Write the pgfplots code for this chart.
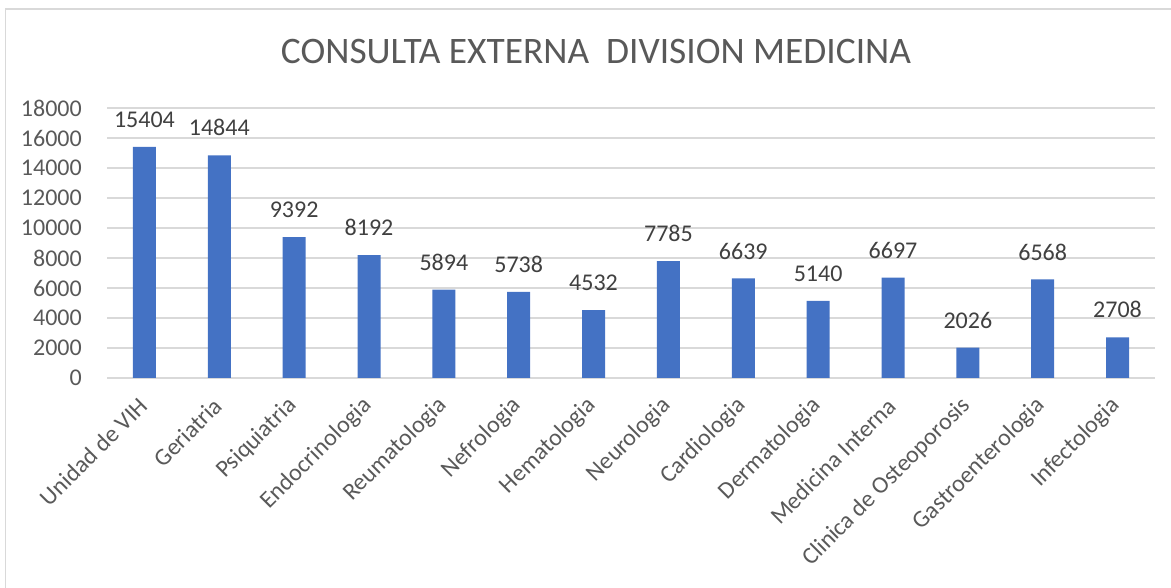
\documentclass[border=0pt]{standalone}
\usepackage{fontspec}
\setmainfont{Carlito}
\usepackage{pgfplots}
\pgfplotsset{compat=1.18}
\definecolor{barblue}{HTML}{4472C4}
\definecolor{gridgray}{HTML}{D9D9D9}
\definecolor{txtgray}{HTML}{595959}
\definecolor{lblgray}{HTML}{404040}
\begin{document}
\begin{tikzpicture}[x=1pt,y=1pt]
\path[use as bounding box] (0,0) rectangle (1171,588);
\draw[gridgray, line width=1.5pt] (5.5,0) -- (5.5,579) -- (1171,579);
\node[anchor=base, text=txtgray, inner sep=0pt, font=\fontsize{37.4}{42}\selectfont] at (596,524) {CONSULTA EXTERNA\ \ DIVISION MEDICINA};
\begin{axis}[
  at={(107pt,210pt)}, anchor=south west,
  width=1048pt, height=270pt, scale only axis,
  xmin=-0.5, xmax=13.5, ymin=0, ymax=18000,
  ytick={0,2000,...,18000},
  scaled y ticks=false,
  xtick={0,...,13},
  xticklabels={Unidad de VIH,Geriatria,Psiquiatria,Endocrinologia,Reumatologia,Nefrologia,Hematologia,Neurologia,Cardiologia,Dermatologia,Medicina Interna,Clinica de Osteoporosis,Gastroenterologia,Infectologia},
  /pgf/number format/assume math mode=true,
  /pgf/number format/1000 sep={},
  axis line style={draw=none},
  tick style={draw=none},
  ymajorgrids, major grid style={gridgray, line width=1.3pt},
  yticklabel style={font=\fontsize{24}{28}\selectfont, text=txtgray, anchor=east, inner sep=0pt, xshift=-25pt},
  xticklabel style={font=\fontsize{24}{28}\selectfont, text=txtgray, xshift=-1pt, yshift=-24pt, rotate=45, anchor=east, inner sep=0pt},
  clip=false,
]
\addplot[ybar, bar width=23pt, fill=barblue, draw=none,
  nodes near coords,
  every node near coord/.append style={font=\fontsize{24}{28}\selectfont, text=lblgray, anchor=south, inner sep=0pt, yshift=19pt}]
coordinates {(0,15404) (1,14844) (2,9392) (3,8192) (4,5894) (5,5738) (6,4532) (7,7785) (8,6639) (9,5140) (10,6697) (11,2026) (12,6568) (13,2708)};
\end{axis}
\end{tikzpicture}
\end{document}
